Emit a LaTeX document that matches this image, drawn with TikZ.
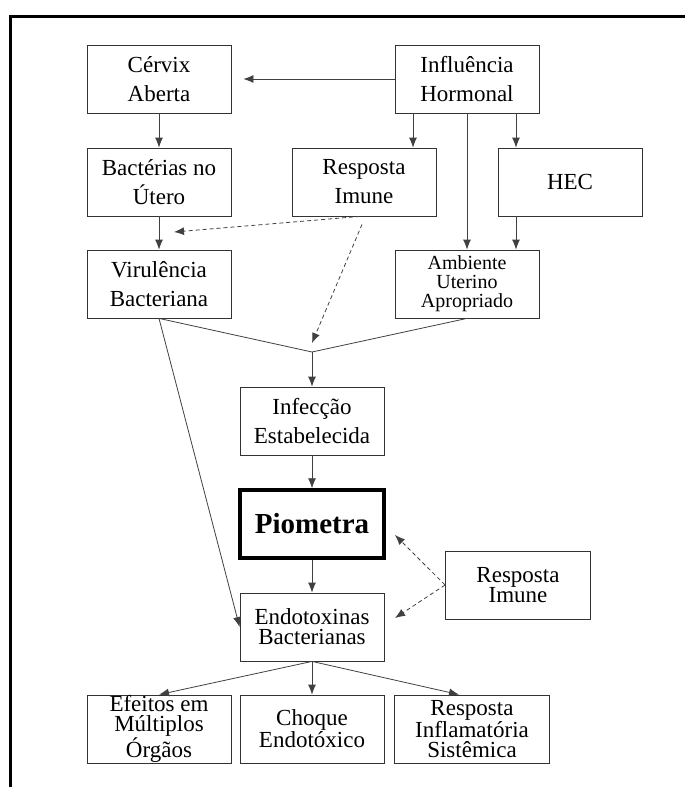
\documentclass[tikz,border=0pt]{standalone}
\usepackage{fontspec}
\setmainfont{Liberation Serif}
\usetikzlibrary{arrows.meta}

\begin{document}
\begin{tikzpicture}[x=1pt,y=-1pt,>={Latex[length=10pt,width=8pt]},
    box/.style={draw=black!80,line width=.8pt,minimum width=144pt,minimum height=68pt,
        inner sep=0pt,align=center,font=\fontsize{23}{29}\selectfont},
    tight/.style={font=\fontsize{23}{20}\selectfont},
    link/.style={black!75,line width=.8pt},
    dashlink/.style={black!75,line width=.8pt,dash pattern=on 4pt off 3pt}]
        \useasboundingbox (0,0) rectangle (685,787);
        \draw[line width=3pt] (10,790)--(10,16)--(688,16);

        \node[box] (cervix) at (159,79) {Cérvix\\Aberta};
        \node[box] (hormonal) at (467,79) {Influência\\Hormonal};
        \node[box] (bacterias) at (159,182) {Bactérias no\\Útero};
        \node[box] (imune) at (364,182) {Resposta\\Imune};
        \node[box] (hec) at (570,182) {HEC};
        \node[box] (virulencia) at (159,284) {Virulência\\Bacteriana};
        \node[box,font=\fontsize{20}{19}\selectfont] (ambiente) at (467,284) {Ambiente\\Uterino\\Apropriado};
        \node[box] (infeccao) at (312,421) {Infecção\\Estabelecida};
        \node[box,line width=3.5pt,draw=black,font=\fontsize{29}{34}\selectfont\bfseries] (piometra) at (312,524) {Piometra};
        \node[box,tight] (endotox) at (312,627) {Endotoxinas\\Bacterianas};
        \node[box,tight,minimum width=145pt] (imune2) at (518,585) {Resposta\\Imune};
        \node[box,tight] (efeitos) at (159,729) {Efeitos em\\Múltiplos\\Órgãos};
        \node[box,tight] (choque) at (312,729) {Choque\\Endotóxico};
        \node[box,tight,minimum width=155pt] (sistemica) at (472,729) {Resposta\\Inflamatória\\Sistêmica};

        \coordinate (junction) at (312,352);
        \coordinate (d1) at (174,232);
        \coordinate (d2) at (312,343);
        \coordinate (p1) at (395,535);
        \coordinate (p2) at (395,618);

        \draw[link,->] (hormonal.west)--([xshift=12pt]cervix.east);
        \draw[link,->] (cervix)--(bacterias);
        \draw[link,->] (bacterias)--(virulencia);
        \draw[link,->] ([xshift=-54pt]hormonal.south)--([xshift=-54pt]hormonal.south |- imune.north);
        \draw[link,->] (hormonal.south)--(ambiente.north);
        \draw[link,->] ([xshift=49pt]hormonal.south)--([xshift=49pt]hormonal.south |- hec.north);
        \draw[link,->] ([xshift=49pt]ambiente.north |- hec.south)--([xshift=49pt]ambiente.north);

        \draw[dashlink,->] ([xshift=-4pt]imune.south)--(d1);
        \draw[dashlink,->] ([xshift=-2pt,yshift=-8pt]imune.south)--(d2);

        \draw[link] (virulencia.south)--(junction)--(ambiente.south);
        \draw[link,->] (junction)--(infeccao.north);
        \draw[link,->] (virulencia.south)--(endotox.west);
        \draw[link,->] (infeccao)--(piometra);
        \draw[link,->] (piometra)--(endotox);

        \draw[dashlink,->] (imune2.west)--(p1);
        \draw[dashlink,->] (imune2.west)--(p2);

        \draw[link,->] (endotox.south)--(efeitos.north);
        \draw[link,->] (endotox.south)--(choque.north);
        \draw[link,->] (endotox.south)--([xshift=-13pt]sistemica.north);

    \end{tikzpicture}
\end{document}
